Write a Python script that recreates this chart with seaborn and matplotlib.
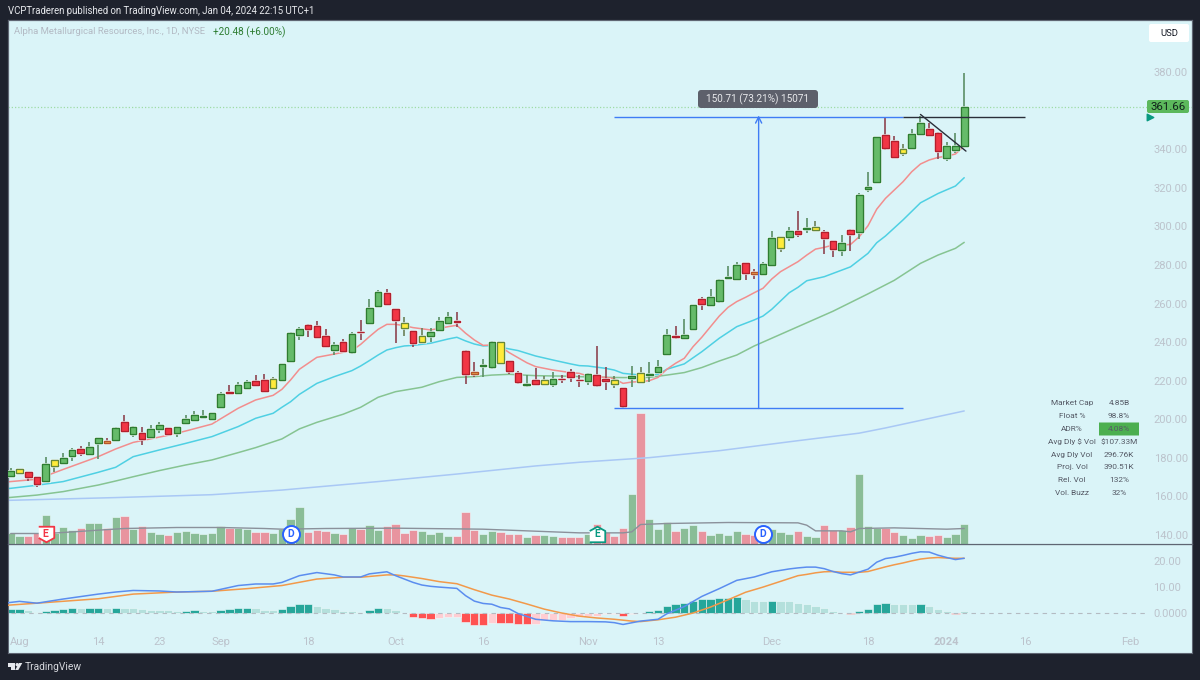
#!/usr/bin/env python3
"""
TradingView style chart of AMR, daily candles with volume and MACD
"""

import matplotlib.pyplot as plt
import matplotlib.patches as mpatches
import matplotlib.patheffects as pe
from matplotlib.transforms import IdentityTransform
import numpy as np
import seaborn as sns

# Candle data, one entry per trading day, top and bottom of body in dollars
body_top = [173.2, 174.0, 172.5, 169.9, 176.6, 178.7, 180.0, 183.9, 184.6, 185.8,
            190.5, 188.9, 195.5, 198.6, 196.0, 192.7, 195.1, 197.2, 195.5, 196.0,
            200.0, 202.2, 201.7, 203.1, 213.1, 214.3, 217.6, 219.5, 219.7, 220.2,
            220.7, 228.8, 244.9, 246.6, 248.7, 248.4, 243.2, 238.3, 239.9, 244.0,
            245.4, 257.9, 265.8, 265.6, 257.0, 249.9, 245.6, 243.0, 245.2, 250.8,
            253.0, 251.1, 235.2, 224.7, 228.0, 239.9, 239.9, 230.0, 224.2, 218.3,
            220.2, 220.2, 220.7, 220.9, 224.3, 220.5, 223.3, 222.8, 220.9, 220.2,
            216.0, 222.6, 224.2, 223.5, 227.3, 243.7, 243.0, 243.7, 259.1, 262.2,
            263.2, 272.4, 273.6, 279.8, 280.9, 276.4, 280.5, 293.8, 294.6, 297.4,
            297.4, 299.1, 299.5, 296.9, 292.5, 291.2, 298.2, 316.2, 320.2, 346.1,
            347.1, 344.4, 339.9, 347.8, 353.7, 350.6, 348.2, 341.4, 341.4, 361.8]
body_low = [170.8, 172.0, 170.2, 166.6, 168.0, 176.0, 177.2, 181.0, 182.7, 182.2,
            187.9, 187.9, 189.1, 194.1, 192.5, 190.0, 191.0, 195.0, 192.4, 193.1,
            198.2, 199.8, 201.2, 200.1, 206.4, 213.8, 213.8, 216.2, 218.0, 214.7,
            216.2, 220.5, 230.4, 243.9, 246.8, 242.8, 238.2, 236.1, 235.2, 235.0,
            245.0, 249.9, 258.9, 259.6, 251.5, 247.1, 239.7, 240.2, 243.3, 246.1,
            249.9, 250.4, 223.3, 223.6, 227.6, 227.3, 229.0, 225.2, 219.3, 217.6,
            218.1, 218.1, 218.1, 220.7, 221.7, 220.4, 219.7, 217.8, 219.7, 218.1,
            206.7, 221.2, 219.5, 223.1, 224.7, 233.8, 242.5, 242.0, 246.6, 259.8,
            259.4, 261.5, 273.2, 272.6, 276.0, 275.5, 275.1, 280.2, 288.6, 294.4,
            296.0, 298.6, 297.9, 293.8, 288.0, 287.5, 296.2, 296.9, 319.2, 323.1,
            340.8, 336.1, 338.0, 340.6, 348.0, 347.3, 339.2, 335.2, 339.5, 341.8]
wick_high = [174.9, 174.2, 172.5, 170.3, 180.3, 178.7, 182.3, 185.0, 186.1, 188.4,
             190.5, 190.5, 196.2, 202.2, 196.7, 196.0, 197.2, 198.4, 195.5, 196.0,
             202.2, 204.5, 204.8, 203.1, 214.0, 218.0, 219.3, 220.4, 222.8, 223.5,
             221.7, 228.8, 245.4, 248.0, 249.2, 251.1, 246.8, 240.2, 241.8, 245.4,
             251.6, 262.2, 266.8, 267.5, 257.0, 253.2, 245.6, 247.3, 247.3, 253.2,
             255.8, 255.4, 235.9, 229.5, 231.1, 240.4, 239.9, 230.0, 225.2, 222.9,
             226.6, 222.6, 224.5, 223.0, 226.1, 223.0, 224.2, 238.0, 227.3, 222.6,
             216.0, 227.4, 226.9, 229.7, 230.7, 247.0, 248.4, 252.0, 259.2, 263.2,
             267.4, 272.7, 279.5, 281.5, 280.9, 277.7, 281.7, 297.6, 294.6, 299.5,
             307.9, 304.1, 302.7, 298.1, 292.5, 295.5, 298.8, 317.1, 328.0, 346.1,
             356.1, 346.8, 342.7, 350.3, 357.2, 353.4, 349.0, 343.9, 348.3, 379.6]
wick_low = [170.8, 171.5, 168.0, 164.7, 168.0, 172.8, 177.2, 178.4, 181.0, 182.2,
            179.4, 187.9, 189.1, 194.1, 190.6, 186.7, 191.0, 192.7, 192.4, 190.6,
            197.9, 199.3, 201.0, 200.1, 206.0, 213.8, 213.4, 215.5, 217.6, 214.7,
            215.9, 220.5, 230.4, 241.1, 242.8, 242.0, 238.2, 233.1, 234.7, 233.7,
            241.1, 249.7, 258.9, 259.6, 239.7, 243.3, 237.6, 240.2, 240.2, 246.1,
            249.7, 248.0, 218.5, 221.9, 222.1, 225.9, 228.7, 223.3, 218.5, 216.9,
            218.1, 218.1, 216.9, 219.0, 219.5, 216.9, 217.8, 216.9, 215.2, 216.4,
            205.7, 216.6, 219.5, 219.5, 223.8, 233.8, 241.6, 242.0, 246.3, 256.8,
            259.4, 260.1, 272.6, 272.6, 272.2, 272.9, 275.1, 280.2, 286.8, 292.5,
            294.6, 296.3, 297.7, 285.5, 284.2, 284.8, 287.4, 293.2, 318.0, 323.1,
            339.5, 336.1, 336.4, 339.9, 348.0, 347.0, 334.9, 334.0, 338.2, 341.8]
candle_kind = ['g', 'y', 'r', 'r', 'g', 'y', 'g', 'g', 'r', 'g',
               'g', 'o', 'g', 'r', 'g', 'r', 'g', 'g', 'r', 'g',
               'g', 'g', 'g', 'g', 'g', 'r', 'g', 'g', 'r', 'r',
               'y', 'g', 'g', 'g', 'r', 'r', 'r', 'g', 'r', 'g',
               'r', 'g', 'g', 'r', 'r', 'y', 'r', 'y', 'g', 'g',
               'g', 'r', 'r', 'o', 'g', 'g', 'y', 'r', 'r', 'g',
               'r', 'y', 'g', 'r', 'r', 'r', 'g', 'r', 'r', 'y',
               'r', 'g', 'y', 'g', 'g', 'g', 'r', 'g', 'g', 'r',
               'g', 'g', 'g', 'g', 'r', 'o', 'g', 'g', 'y', 'g',
               'r', 'g', 'y', 'r', 'r', 'g', 'r', 'g', 'g', 'g',
               'r', 'r', 'y', 'g', 'g', 'r', 'r', 'g', 'g', 'g']
candle_idx = list(range(110))

# Volume in thousands of shares
volume = [275, 183, 183, 275, 716, 275, 416, 342, 400, 525,
          508, 383, 675, 683, 375, 433, 300, 241, 208, 283,
          325, 266, 241, 266, 450, 391, 391, 366, 283, 283,
          258, 375, 608, 908, 291, 350, 308, 266, 233, 400,
          375, 475, 333, 433, 500, 266, 341, 308, 233, 291,
          191, 191, 800, 350, 250, 308, 291, 250, 250, 175,
          208, 208, 191, 158, 175, 175, 250, 483, 291, 183,
          400, 1233, 3266, 608, 358, 550, 308, 383, 458, 308,
          225, 266, 208, 325, 233, 208, 250, 358, 291, 250,
          308, 191, 166, 475, 350, 341, 416, 1733, 433, 383,
          400, 300, 225, 150, 208, 183, 225, 175, 250, 491]
volume_kind = ['g', 'g', 'r', 'r', 'g', 'g', 'g', 'g', 'r', 'g',
               'g', 'r', 'g', 'r', 'g', 'r', 'g', 'g', 'r', 'g',
               'g', 'g', 'g', 'g', 'g', 'r', 'g', 'g', 'r', 'r',
               'g', 'g', 'g', 'g', 'r', 'r', 'r', 'g', 'r', 'g',
               'r', 'g', 'g', 'r', 'r', 'r', 'r', 'g', 'g', 'g',
               'g', 'r', 'r', 'r', 'g', 'g', 'r', 'r', 'r', 'g',
               'r', 'g', 'g', 'r', 'r', 'r', 'g', 'r', 'r', 'r',
               'r', 'g', 'r', 'g', 'g', 'g', 'r', 'g', 'g', 'r',
               'g', 'g', 'g', 'g', 'r', 'r', 'g', 'g', 'g', 'g',
               'r', 'g', 'g', 'r', 'r', 'g', 'r', 'g', 'g', 'g',
               'r', 'r', 'g', 'g', 'g', 'r', 'r', 'g', 'g', 'g']
volume_ma_idx = [0, 4, 6, 10, 13, 19, 24, 29, 31, 36, 44, 54, 62, 65, 70, 71, 72, 75, 82,
                 90, 91, 92, 95, 96, 97, 101, 107, 109]
volume_ma = [250, 250, 275, 333, 375, 400, 400, 375, 358, 375, 383, 358, 291, 266, 266, 291,
             475, 500, 525, 516, 458, 316, 316, 291, 375, 391, 358, 375]

# Moving averages on price, read at a sample of days
ema_fast_idx = [-1, 0, 3, 6, 10, 12, 14, 18, 20, 23, 26, 28, 30, 31, 32, 33, 35, 37, 39, 40,
                41, 42, 43, 44, 45, 46, 48, 49, 50, 51, 52, 53, 54, 55, 56, 57, 59, 60, 62,
                64, 65, 66, 68, 69, 70, 71, 72, 73, 74, 75, 76, 77, 78, 79, 80, 81, 82, 83,
                84, 85, 86, 87, 88, 89, 90, 91, 92, 93, 94, 95, 96, 97, 98, 99, 100, 101,
                102, 103, 104, 105, 106, 107, 108, 109]
ema_fast = [167.3, 167.7, 168.9, 174.0, 180.6, 184.6, 188.0, 191.7, 193.9, 197.5, 205.7, 210.0,
            212.4, 215.5, 220.4, 225.9, 232.1, 233.8, 235.6, 238.8,
            242.8, 246.6, 249.2, 249.2, 248.5, 247.5, 246.3, 247.1, 248.0, 248.7, 244.6, 241.1,
            238.3, 238.5, 237.6, 234.5, 229.3, 227.3, 225.5,
            224.2, 223.8, 222.4, 221.7, 221.0, 218.6, 219.3, 219.5, 220.0, 221.7, 225.9, 229.0,
            231.6, 237.6, 242.5, 248.0, 253.5, 258.0, 261.0,
            263.2, 265.6, 267.9, 272.7, 276.5, 279.1, 281.7, 285.1, 288.2, 289.1, 290.3, 290.3,
            290.6, 294.6, 300.3, 308.9, 314.5, 318.8,
            323.1, 328.3, 332.3, 334.4, 335.7, 336.4, 337.5, 341.6]
ema_mid_idx = [-1, 0, 3, 6, 10, 12, 14, 17, 20, 23, 26, 28, 30, 31, 32, 33, 35, 37, 39, 40, 41,
               42, 43, 44, 45, 46, 48, 50, 51, 52, 53, 54, 55, 56, 58, 60, 62, 64, 65, 66, 68,
               69, 70, 72, 74, 75, 77, 79, 81, 83, 85, 86, 87, 89, 90, 91, 93, 94, 96, 97, 98,
               99, 100, 102, 104, 106, 108, 109]
ema_mid = [163.9, 164.2, 165.8, 167.7, 172.5, 175.1, 180.6, 184.1, 187.5, 191.0, 196.2, 200.5,
           203.1, 206.2, 209.1, 212.9, 218.6, 222.1, 225.2, 227.6, 230.4,
           233.3, 235.9, 237.1, 238.0, 238.3, 239.4, 241.6, 242.5, 240.6, 239.0, 238.0, 238.2,
           237.3, 235.6, 232.8, 230.7, 228.7, 227.8, 227.6, 226.4,
           225.5, 223.8, 222.9, 223.3, 225.9, 228.7, 235.0, 242.0, 248.0, 251.5, 253.5, 257.0,
           265.6, 268.4, 271.8, 273.9, 275.6, 279.0, 282.5, 286.0,
           291.5, 295.0, 303.3, 312.2, 317.0, 320.9, 325.2]
sma_slow_idx = [-1, 0, 3, 6, 10, 12, 14, 17, 20, 23, 26, 28, 31, 33, 35, 38, 40, 42, 44, 47, 49,
                51, 53, 55, 57, 60, 64, 66, 70, 73, 75, 77, 79, 81, 83, 85, 87, 90, 94, 98, 101,
                104, 106, 108, 109]
sma_slow = [159.2, 159.5, 160.7, 162.5, 165.9, 168.0, 170.2, 173.4, 176.3, 178.9, 182.7, 185.3,
            189.8, 195.0, 198.4, 202.6, 206.2, 211.4, 214.3, 216.6, 219.5,
            221.7, 222.1, 222.9, 223.3, 222.6, 222.3, 221.9, 221.6, 221.7, 222.9, 224.2, 226.8,
            230.2, 233.3, 238.0, 242.0, 248.0, 256.0, 265.0, 272.0,
            280.8, 285.1, 288.6, 291.7]
sma_long_idx = [-1, 0, 12, 23, 31, 42, 51, 60, 65, 73, 81, 90, 97, 100, 109]
sma_long = [157.9, 158.0, 159.4, 160.9, 163.3, 167.7, 171.6, 175.8, 177.7, 180.1, 183.7, 188.9,
            192.8, 195.5, 204.3]

# MACD pane
macd_idx = [-1, 0, 1, 3, 6, 10, 12, 14, 17, 19, 23, 26, 28, 30, 31, 33, 35, 37, 38, 40, 41, 43,
            44, 45, 46, 47, 48, 49, 51, 52, 53, 54, 55, 56, 57, 58, 59, 60, 62, 64, 66, 68, 69,
            70, 72, 74, 75, 77, 79, 81, 83, 85, 87, 89, 90, 91, 92, 93, 94, 95, 96, 97, 98, 99,
            100, 101, 102, 103, 104, 105, 106, 107, 108, 109]
macd_line = [3.6, 3.9, 4.3, 3.6, 5.2, 7.1, 7.9, 8.5, 8.3, 7.9, 8.2, 10.4, 11.0, 11.0, 11.6, 14.2,
             15.4, 14.5, 13.7, 13.7, 14.9, 15.7,
             14.2, 12.9, 11.6, 10.6, 10.1, 9.8, 9.3, 6.5, 4.4, 3.5, 3.2, 1.95, 1.4, -0.4, -1.5,
             -2.6, -3.2, -3.5, -3.5, -3.6, -3.9,
             -4.6, -3.3, -2.6, -0.5, 2.3, 6.2, 9.2, 12.4, 13.7, 15.7, 16.8, 17.2, 17.5, 17.5,
             16.9, 15.8, 15.0, 14.5, 15.6, 16.7, 19.4,
             20.8, 21.3, 22.0, 22.8, 23.4, 23.3, 22.1, 21.2, 20.4, 20.9]
signal_idx = [-1, 0, 3, 10, 14, 19, 23, 27, 31, 35, 38, 40, 43, 44, 45, 47, 49, 51, 53, 55, 57,
              59, 61, 63, 65, 67, 69, 71, 72, 74, 76, 78, 80, 82, 84, 86, 88, 90, 91, 92, 93,
              94, 95, 96, 97, 98, 99, 100, 101, 102, 103, 104, 105, 106, 107, 108, 109]
signal_line = [2.6, 2.9, 3.6, 5.3, 7.1, 7.9, 8.2, 9.2, 10.4, 12.9, 13.6, 13.6, 14.5, 14.5, 14.1,
               13.1, 11.9, 11.1, 8.8, 6.7, 5.2,
               3.3, 1.3, -0.2, -1.4, -2.1, -2.6, -3.3, -3.5, -2.8, -1.8, -0.2, 2.1, 4.9, 7.8,
               9.8, 12.0, 14.2, 14.7, 15.3, 15.7,
               15.8, 15.5, 15.5, 15.5, 15.8, 16.7, 17.6, 18.4, 19.1, 19.9, 20.6, 21.0, 21.2,
               21.0, 20.9, 20.9]
macd_hist = [1.2, 1.2, 0.8, 0.3, 0.65, 0.9, 1.2, 1.55, 1.55, 1.55,
             1.9, 1.55, 1.9, 1.9, 1.9, 1.3, 0.9, 0.9, 0.8, 0.4,
             0.4, 0.8, 0.5, 0.4, 1.0, 1.3, 1.55, 1.55, 1.55, 0.9,
             0.8, 1.3, 2.45, 3.1, 3.1, 2.7, 1.9, 1.3, 0.4, 0.4,
             0.25, 1.0, 1.55, 1.55, 0.8, -0.3, -1.7, -2.3, -2.6, -2.3,
             -1.9, -1.9, -3.7, -4.65, -4.9, -3.9, -3.9, -3.9, -4.3, -4.3,
             -4.3, -2.7, -2.7, -2.7, -2.1, -1.7, -1.4, -1.2, -0.65, -0.5,
             -1.4, -0.4, -0.25, 0.4, 1.0, 2.45, 3.1, 3.75, 4.4, 5.2,
             5.4, 5.7, 5.7, 5.9, 5.4, 4.5, 4.3, 4.5, 4.3, 4.3,
             3.5, 3.1, 2.6, 1.7, 0.4, -0.25, -0.5, 0.65, 1.4, 3.2,
             3.75, 3.4, 3.4, 3.4, 3.4, 2.45, 1.3, 0.5, -0.5, 0.4]
hist_kind = ['d', 'd', 'l', 'l', 'd', 'd', 'd', 'd', 'l', 'd',
             'd', 'l', 'd', 'l', 'l', 'l', 'l', 'l', 'l', 'l',
             'd', 'd', 'l', 'l', 'd', 'd', 'd', 'd', 'l', 'l',
             'l', 'd', 'd', 'd', 'd', 'l', 'l', 'l', 'l', 'l',
             'l', 'd', 'd', 'l', 'l', 'r', 'r', 'r', 'r', 'p',
             'p', 'p', 'r', 'r', 'r', 'p', 'r', 'r', 'r', 'r',
             'p', 'p', 'p', 'p', 'p', 'p', 'p', 'p', 'p', 'p',
             'r', 'p', 'p', 'd', 'd', 'd', 'd', 'd', 'd', 'd',
             'd', 'd', 'd', 'd', 'l', 'l', 'l', 'd', 'l', 'l',
             'l', 'l', 'l', 'l', 'l', 'r', 'r', 'd', 'd', 'd',
             'd', 'l', 'l', 'l', 'd', 'l', 'l', 'l', 'r', 'l']

# Axis labels
price_ticks = [140, 160, 180, 200, 220, 240, 260, 280, 300, 320, 340, 380]
macd_ticks = [0, 10, 20]
macd_tick_labels = ['0.0000', '10.00', '20.00']
date_tick_idx = [1, 10, 17, 24, 34, 44, 54, 66, 74, 87, 98, 107, 116, 128]
date_tick_labels = ['Aug', '14', '23', 'Sep', '18', 'Oct', '16', 'Nov', '13', 'Dec', '18', '2024', '16', 'Feb']

# Earnings and dividend flags
event_idx = [4, 32, 67, 86]
event_label = ['E', 'D', 'E', 'D']

# Stats table
stat_names = ['Market Cap', 'Float %', 'ADR%', 'Avg Dly $ Vol', 'Avg Dly Vol', 'Proj. Vol', 'Rel. Vol', 'Vol. Buzz']
stat_values = ['4.85B', '98.8%', '4.08%', '$107.33M', '296.76K', '390.51K', '132%', '32%']

# Colours
PAGE = '#1e222d'
PANEL = '#daf4f8'
AXIS_TEXT = '#bcc3cc'
BORDER = '#5f6673'

W, H = 1200, 680

sns.set_theme(style='white')
plt.rcParams['font.family'] = ['Roboto', 'DejaVu Sans']


def px_text(x, y, s, size, color, ha='left', weight='normal'):
    # text placed by pixel position in the picture, size in pixels
    fig.text(x / W, 1 - y / H, s, fontsize=size * 0.72, color=color, ha=ha, va='center',
             fontweight=weight, zorder=8)


def px_box(x0, y0, x1, y1, color, radius=0.0):
    box = mpatches.FancyBboxPatch((x0, H - y1), x1 - x0, y1 - y0,
                                  boxstyle=f'round,pad=0,rounding_size={radius}',
                                  transform=IdentityTransform(), facecolor=color,
                                  edgecolor='none', zorder=7)
    fig.add_artist(box)


fig = plt.figure(figsize=(W / 100, H / 100), dpi=100, facecolor=PAGE)
ax_vol = fig.add_axes([8 / W, (H - 543.5) / H, 1184 / W, 523 / H], facecolor=PANEL)
ax_price = ax_vol.twinx()
ax_macd = fig.add_axes([8 / W, (H - 653) / H, 1184 / W, 109.5 / H], facecolor=PANEL)

# Volume pane sits behind the candles
ax_vol.set_zorder(1)
ax_price.set_zorder(2)
ax_price.patch.set_visible(False)

sns.barplot(x=candle_idx, y=volume, hue=volume_kind, palette={'g': '#8abd97', 'r': '#e8949f'},
            native_scale=True, dodge=False, width=0.95, saturation=1, legend=False,
            edgecolor='#eefbfd', linewidth=0.4, ax=ax_vol)
sns.lineplot(x=volume_ma_idx, y=volume_ma, color='#8b919b', lw=1.0, estimator=None, ax=ax_vol)
for i, label in zip(event_idx, event_label):
    if label == 'D':
        ax_vol.scatter(i, 237, s=150, marker='o', facecolor='white', edgecolor='#2962ff',
                       linewidth=1.4, zorder=6)
        text_color = '#2962ff'
    elif i < 50:
        ax_vol.scatter(i, 237, s=125, marker=[(-1, 1), (1, 1), (1, -0.45), (0, -1), (-1, -0.45)],
                       facecolor='white', edgecolor='#f23645', linewidth=1.3, zorder=6)
        text_color = '#f23645'
    else:
        ax_vol.scatter(i, 237, s=125, marker=[(-1, -1), (1, -1), (1, 0.45), (0, 1), (-1, 0.45)],
                       facecolor='white', edgecolor='#089981', linewidth=1.3, zorder=6)
        text_color = '#089981'
    ax_vol.text(i, 237, label, color=text_color, fontsize=7.5, fontweight='bold', ha='center',
                va='center', zorder=7)
ax_vol.set_ylim(0, 13075)
ax_vol.set_yticks([])

# Candles
face = {'g': '#66bb6a', 'r': '#f23645', 'y': '#ffeb3b', 'o': '#e8a24c'}
edge = {'g': '#2e7d32', 'r': '#b2202e', 'y': '#66873a', 'o': '#b5562c'}
wick = {'g': '#5b8f66', 'r': '#8e4451', 'y': '#6b8058', 'o': '#8e4451'}
for i in candle_idx:
    k = candle_kind[i]
    ax_price.vlines(i, wick_low[i], wick_high[i], color=wick[k], lw=1.2, zorder=3)
bodies = ax_price.bar(candle_idx, np.array(body_top) - np.array(body_low), bottom=body_low, width=0.76,
                      color=[face[k] for k in candle_kind], edgecolor=[edge[k] for k in candle_kind],
                      linewidth=0.9, zorder=4)
for body in bodies:
    body.set_path_effects([pe.withStroke(linewidth=1.8, foreground='#f2fcfd'), pe.Normal()])

# Moving averages
sns.lineplot(x=sma_long_idx, y=sma_long, color='#a9c8f5', lw=1.1, estimator=None, ax=ax_price, zorder=2)
sns.lineplot(x=sma_slow_idx, y=sma_slow, color='#86c492', lw=1.1, estimator=None, ax=ax_price, zorder=2)
sns.lineplot(x=ema_mid_idx, y=ema_mid, color='#4fd0e3', lw=1.1, estimator=None, ax=ax_price, zorder=2)
sns.lineplot(x=ema_fast_idx, y=ema_fast, color='#f28e8e', lw=1.1, estimator=None, ax=ax_price, zorder=2)

# Drawings: measured move, breakout level, trendline and last price
ax_price.axhline(361.66, color='#9fdca6', lw=0.9, ls=(0, (1, 1.6)), zorder=1)
ax_price.hlines([356.7, 205.6], 69, 102, color='#3f7cf5', lw=1.0, zorder=5)
ax_price.hlines(356.7, 102, 116, color='#2a2e39', lw=1.0, zorder=5)
ax_price.plot([104, 109.2], [358, 339], color='#2a2e39', lw=1.0, zorder=6)
ax_price.annotate('', xy=(85.5, 357.5), xytext=(85.5, 205.6),
                  arrowprops=dict(arrowstyle='->', color='#3f7cf5', lw=1.0, shrinkA=0, shrinkB=0,
                                  mutation_scale=11), zorder=5)
ax_price.scatter(130.2, 356.7, marker='>', s=22, color='#089981', zorder=6)
ax_price.set_ylim(135.6, 406.7)
ax_price.set_yticks(price_ticks)
ax_price.set_yticklabels([f'{p:.2f}' for p in price_ticks])
ax_price.yaxis.tick_right()
ax_price.tick_params(axis='y', length=0, pad=-27.5, labelsize=8.0, labelcolor=AXIS_TEXT)

# MACD pane
sns.barplot(x=candle_idx, y=macd_hist, hue=hist_kind,
            palette={'d': '#26a69a', 'l': '#b4e0dc', 'r': '#ff5252', 'p': '#ffcdd2'},
            native_scale=True, dodge=False, width=0.95, saturation=1, legend=False,
            edgecolor='#eefbfd', linewidth=0.4, ax=ax_macd)
ax_macd.hlines(0, 0, 130, color='#b4bbc2', lw=0.8, ls=(0, (4, 4)), zorder=1)
sns.lineplot(x=signal_idx, y=signal_line, color='#f2994a', lw=1.1, estimator=None, ax=ax_macd, zorder=4)
sns.lineplot(x=macd_idx, y=macd_line, color='#5b8def', lw=1.1, estimator=None, ax=ax_macd, zorder=5)
ax_macd.set_ylim(-15.6, 26.6)
ax_macd.set_yticks(macd_ticks)
ax_macd.set_yticklabels(macd_tick_labels)
ax_macd.yaxis.tick_right()
ax_macd.tick_params(axis='y', length=0, pad=-28, labelsize=8.0, labelcolor=AXIS_TEXT)
ax_macd.set_xticks(date_tick_idx)
ax_macd.set_xticklabels(date_tick_labels)
ax_macd.tick_params(axis='x', length=0, pad=-11.5, labelsize=8.0, labelcolor=AXIS_TEXT)
ax_macd.get_xticklabels()[11].set_fontweight('bold')

for ax in (ax_vol, ax_price, ax_macd):
    ax.set_xlim(-0.309, 135.04)
    ax.set_xlabel('')
    ax.set_ylabel('')
    for spine in ax.spines.values():
        spine.set_color(BORDER)
        spine.set_linewidth(0.8)
ax_vol.set_xticks([])
ax_price.set_xticks([])

# Header, legend and footer text
px_text(8, 11, 'VCPTraderen published on TradingView.com, Jan 04, 2024 22:15 UTC+1', 9.6, '#e6e8ec')
px_text(14, 32, 'Alpha Metallurgical Resources, Inc., 1D, NYSE', 9.5, '#b3bac4')
px_text(213, 32, '+20.48 (+6.00%)', 10, '#2e7d32')
px_box(1149, 24, 1189, 42, 'white', 2)
px_text(1169, 33, 'USD', 9.5, '#131722', ha='center')

# Measurement tag and last price tag
px_box(698, 90, 818, 108, '#5d606b', 3)
px_text(758, 99, '150.71 (73.21%) 15071', 10.0, '#e8e9ec', ha='center')
px_box(1147, 100, 1189, 113, '#5cb85c', 2)
px_text(1168, 106.5, '361.66', 11.5, '#10231a', ha='center')

# Stats table
stat_rows = [403, 416, 429, 441.7, 454.6, 467.3, 480.2, 493]
px_box(1099, 422.5, 1139, 435.5, '#4caf50')
for row_y, name, value in zip(stat_rows, stat_names, stat_values):
    px_text(1072, row_y, name, 8.3, '#555a66', ha='center')
    px_text(1119, row_y, value, 8.3, '#555a66', ha='center')

# TradingView logo
logo = [mpatches.Polygon([(7.5, H - 663), (14.5, H - 663), (14.5, H - 670), (11, H - 670),
                          (11, H - 666.5), (7.5, H - 666.5)], closed=True),
        mpatches.Circle((17.2, H - 664.7), 1.7),
        mpatches.Polygon([(19, H - 663), (22.3, H - 663), (18.3, H - 670), (15.2, H - 670)], closed=True)]
for part in logo:
    part.set(transform=IdentityTransform(), facecolor='#e6e8ec', edgecolor='none', zorder=7)
    fig.add_artist(part)
px_text(25, 667, 'TradingView', 10.3, '#d4d6db')

plt.savefig('out.png', dpi=100, facecolor=PAGE)
